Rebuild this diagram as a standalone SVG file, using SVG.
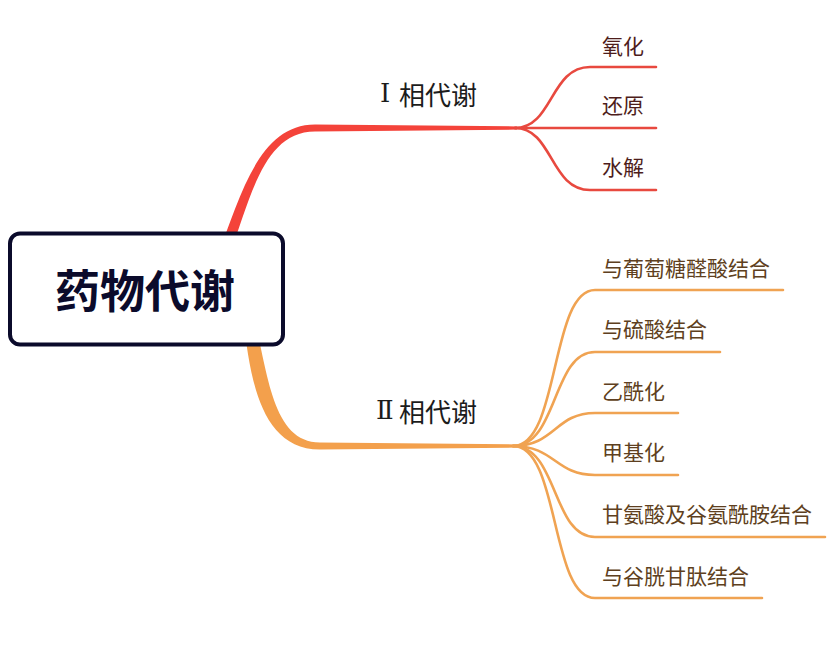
<svg xmlns="http://www.w3.org/2000/svg" width="835" height="647" viewBox="0 0 835 647">
<style>
.sub{fill:none;stroke-width:2.6;stroke-linecap:round}
.r{stroke:#e8493f}
.o{stroke:#f0a352}
text{font-family:"Microsoft YaHei","Noto Sans CJK SC","Noto Sans",sans-serif;dominant-baseline:central}
.lr{font-size:21px;fill:#4e1d1b}
.lo{font-size:21px;fill:#5e3f20}
.main{font-size:26px;fill:#1c1c1c}
.num{font-family:"DejaVu Serif","Liberation Serif",serif}
.root{font-size:45px;font-weight:bold;fill:#0b0b2b;text-anchor:middle}
</style>
<rect width="835" height="647" fill="#ffffff"/>
<g id="connectors">
<path d="M217 257 C240 198 258 124.5 315 124.5 L517 126.4 L517 129.6 L315 131.5 C262 131.5 250 202 228 259 Z" fill="#f4433a"/>
<path d="M254 318 C268 372 272 442.5 320 442.5 L517 444.4 L517 447.6 L320 449.5 C258 449.5 250 372 243 318 Z" fill="#f3a04c"/>
<path class="sub r" d="M515 128 C553 128 550 67 590 67 L656 67"/>
<path class="sub r" d="M515 128 L656 128"/>
<path class="sub r" d="M515 128 C553 128 550 190 590 190 L656 190"/>
<path class="sub o" d="M513 446 C560 446 550 290 595 290 L783 290"/>
<path class="sub o" d="M513 446 C558 446 552 352 595 352 L720 352"/>
<path class="sub o" d="M513 446 C555 446 555 413 595 413 L678 413"/>
<path class="sub o" d="M513 446 C555 446 555 475 595 475 L678 475"/>
<path class="sub o" d="M513 446 C558 446 552 537 595 537 L825 537"/>
<path class="sub o" d="M513 446 C560 446 550 598 595 598 L762 598"/>
</g>
<g id="root">
<rect x="10" y="233.5" width="273" height="111" rx="10" fill="#ffffff" stroke="#0b0b2b" stroke-width="4"/>
<text class="root" x="145" y="288">药物代谢</text>
</g>
<g id="phase1"><text class="main" y="93"><tspan class="num" x="380">Ⅰ </tspan><tspan x="399">相代谢</tspan></text></g>
<g id="phase2"><text class="main" y="410"><tspan class="num" x="376">Ⅱ</tspan><tspan x="399">相代谢</tspan></text></g>
<g id="n-oxidation"><text class="lr" x="602" y="45">氧化</text></g>
<g id="n-reduction"><text class="lr" x="602" y="104">还原</text></g>
<g id="n-hydrolysis"><text class="lr" x="602" y="166">水解</text></g>
<g id="n-glucuronide"><text class="lo" x="602" y="267">与葡萄糖醛酸结合</text></g>
<g id="n-sulfate"><text class="lo" x="602" y="328">与硫酸结合</text></g>
<g id="n-acetyl"><text class="lo" x="602" y="390">乙酰化</text></g>
<g id="n-methyl"><text class="lo" x="602" y="451">甲基化</text></g>
<g id="n-glycine"><text class="lo" x="602" y="513">甘氨酸及谷氨酰胺结合</text></g>
<g id="n-glutathione"><text class="lo" x="602" y="575">与谷胱甘肽结合</text></g>
</svg>
